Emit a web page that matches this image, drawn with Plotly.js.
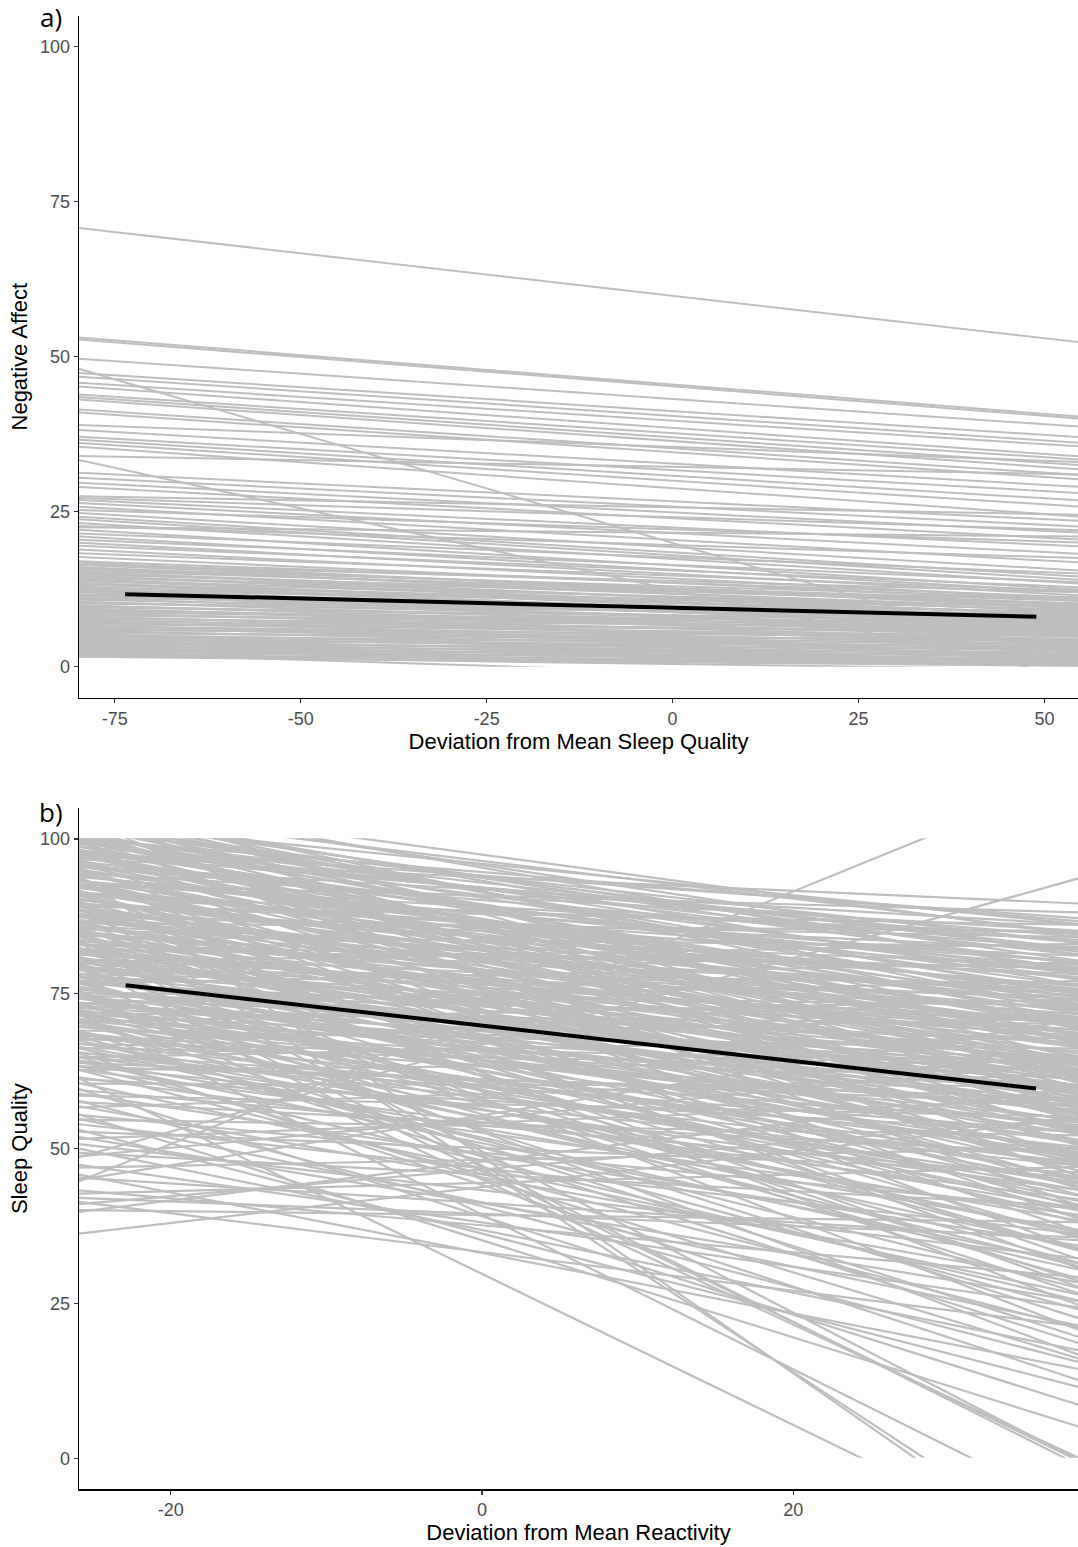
<!DOCTYPE html>
<html><head><meta charset="utf-8">
<script src="https://cdn.plot.ly/plotly-3.0.1.min.js"></script>
<style>html,body{margin:0;padding:0;background:#fff}#chart{width:1078px;height:1547px}</style>
</head><body><div id="chart"></div><script>
// ---------- Panel a: Negative Affect vs deviation from mean sleep quality ----------
const aLineX = [-80, 55];              // x span over which each person's fitted line is drawn
const aLeft = [70.8,53.1,52.8,49.7,48.1,47.4,46.8,45.8,45.2,43.9,43.5,43.1,41.5,41.0,39.0,38.2,37.1,36.6,36.1,35.5,34.0,33.4,31.3,30.5,29.7,29.0,27.5,27.2,26.9,26.4,25.8,25.3,24.8,24.2,23.8,23.2,22.7,22.5,22.1,21.5,21.0,20.5,20.0,19.5,18.9,18.3,17.7,
17.0,16.8,16.5,16.4,16.1,15.9,15.8,15.5,15.3,15.2,14.9,14.7,14.6,14.3,14.1,14.0,13.8,13.5,13.4,13.2,12.9,12.8,12.6,12.3,12.2,12.0,11.7,11.6,11.4,11.1,11.0,10.8,10.5,10.4,10.2,9.9,9.8,9.6,9.4,9.2,9.0,8.8,8.7,8.4,8.3,8.1,7.9,7.7,7.5,7.4,7.2,7.0,6.8,6.6,6.5,6.3,6.1,5.9,5.8,5.6,5.4,5.2,5.1,4.9,4.7,4.5,4.4,4.2,4.0,3.9,3.7,3.5,3.4,3.2,3.0,2.9,2.7,2.6,2.4,2.3,2.2,2.0,1.9,1.8,1.7,1.6];
const aRight = [52.3,40.3,40.0,38.7,0.6,37.0,36.1,35.5,33.9,33.4,32.5,31.8,30.9,30.2,33.0,29.0,28.0,26.8,25.8,24.2,31.0,-2.0,23.5,22.6,21.6,20.5,24.5,22.0,19.4,18.2,16.8,20.0,15.5,14.5,14.0,13.4,17.5,21.0,12.4,15.0,12.0,13.6,11.5,12.8,11.0,12.2,10.6,
11.2,9.5,12.0,10.1,8.8,11.0,9.9,10.6,8.2,9.4,10.2,7.6,9.0,10.8,8.5,7.1,9.6,8.0,6.8,9.2,7.4,8.7,6.2,9.8,7.9,6.6,8.3,5.8,7.2,8.9,6.0,7.7,5.4,6.9,8.1,5.1,6.4,7.3,4.8,6.1,5.6,7.0,4.4,5.9,6.7,3.9,5.2,6.3,4.1,5.5,3.5,4.9,5.8,3.2,4.5,2.8,4.0,5.0,2.5,3.6,4.3,2.1,3.1,1.8,3.8,2.6,1.4,3.3,2.0,1.1,2.9,1.6,0.8,2.3,1.2,0.5,1.9,0.9,0.3,-3.0,1.3,0.2,0.7,-0.5,0.4,0.1];
const aMeanX = [-73.6, 48.9];
const aMeanY = [11.7, 8.06];
const aXTicks = [-75, -50, -25, 0, 25, 50];
const aXTickText = ['-75', '-50', '-25', '0', '25', '50'];

// ---------- Panel b: Sleep Quality vs deviation from mean reactivity ----------
const bLineX = [-26.5, 39];
const bLeft = [107.0,106.8,106.3,106.0,105.6,105.2,104.8,104.4,104.0,103.7,103.5,103.3,103.0,102.6,102.3,102.0,101.7,101.5,101.3,101.0,100.7,100.4,100.1,100.0,
99.8,99.6,99.3,99.0,98.7,98.4,98.1,97.8,97.5,97.2,96.9,96.7,96.4,96.1,95.8,95.5,95.2,95.0,94.7,94.4,94.1,93.8,93.5,93.2,92.9,92.6,92.3,92.0,91.7,91.4,91.1,90.8,90.5,90.3,90.1,89.9,
89.6,89.3,89.0,88.7,88.4,88.1,87.8,87.5,87.2,86.9,86.6,86.3,86.0,85.7,85.4,85.1,84.8,84.5,84.2,83.9,83.6,83.3,83.0,82.7,82.4,82.1,81.8,81.5,81.2,80.9,80.6,80.5,80.3,80.1,80.0,
79.7,79.4,79.1,78.8,78.6,78.3,78.0,77.7,77.4,77.1,76.8,76.5,76.2,76.0,75.7,75.4,75.1,74.8,74.5,74.2,73.9,73.6,73.3,73.0,72.7,72.4,72.1,71.8,71.5,71.2,70.9,70.6,70.3,70.1,
69.8,69.4,69.0,68.6,68.2,67.8,67.4,67.0,66.6,66.2,65.8,65.4,65.0,64.6,64.2,63.8,63.4,63.0,62.6,62.0,61.6,61.2,60.8,60.4,60.0,
59.5,59.0,58.5,58.0,57.5,57.0,56.5,55.9,55.5,55.0,54.6,54.0,53.3,52.7,52.0,51.4,50.8,50.2,
49.3,48.5,48.1,47.5,46.8,46.0,45.3,44.6,44.0,43.3,42.6,42.0,41.5,40.8,40.0,39.5,36.0,
104.6,104.2,103.9,103.1,102.8,102.1,101.9,101.1,100.9,100.5,100.2,99.9,99.5,99.1,98.9,98.6,98.2,97.9,97.6,97.0,96.6,96.2,95.9,95.6,95.3,94.9,94.5,94.2,93.9,93.6,93.3,93.0,92.7,92.4,92.1,91.8,91.5,91.2,90.9,90.6,90.2,
89.8,89.5,89.1,88.8,88.5,88.2,87.9,87.6,87.3,87.0,86.7,86.4,86.1,85.8,85.5,85.2,84.9,84.6,84.3,84.0,83.7,83.4,83.1,82.8,82.5,82.2,81.9,81.6,81.3,81.0,80.7,80.4,
79.9,79.5,79.2,78.9,78.5,78.1,77.8,77.5,77.2,76.9,76.6,76.3,75.9,75.6,75.2,74.9,74.6,74.3,73.8,73.5,73.2,72.9,72.5,72.2,71.9,71.6,71.3,70.8,70.4,
69.6,69.2,68.8,68.4,67.9,67.2,66.8,66.4,65.6,65.2,64.8,64.4,63.6,63.2,62.8];
const bRight = [78.0,60.0,84.2,70.0,81.0,64.0,76.0,84.5,58.0,73.0,40.0,80.0,67.0,86.0,52.0,77.0,62.0,55.0,83.0,70.5,45.0,79.5,66.0,86.5,
74.0,58.0,81.0,69.0,87.0,48.0,76.0,63.0,84.0,72.0,54.0,89.4,78.0,66.0,38.0,82.0,70.0,-19.6,59.0,85.0,75.0,50.0,67.0,80.0,61.0,88.0,73.0,43.0,64.0,78.5,56.0,84.5,-17.5,69.5,52.0,30.0,
76.0,62.5,86.0,47.0,71.0,57.0,81.0,66.0,24.0,74.5,53.0,85.0,63.0,40.0,78.0,59.5,70.0,48.5,82.5,-1.3,67.5,55.0,75.5,35.0,62.0,79.0,51.0,69.0,44.5,58.5,72.5,-2.0,28.0,64.5,83.0,
54.0,68.0,41.0,76.5,-1.3,60.0,47.5,71.0,33.0,57.0,65.5,80.0,50.5,-0.8,62.0,38.5,73.0,55.5,45.0,67.0,22.0,59.0,77.0,51.0,64.0,-9.5,42.0,70.0,53.5,30.5,61.0,47.0,74.0,36.0,
56.0,18.0,66.0,44.0,59.5,27.0,71.0,50.0,38.0,62.5,12.0,54.0,43.0,68.0,31.0,57.0,47.0,20.5,64.0,-17.9,39.0,52.5,26.0,60.0,8.0,
45.0,34.0,55.0,15.0,49.0,28.0,62.0,4.5,40.0,21.0,52.0,36.0,11.0,46.0,25.0,58.0,32.0,17.0,
40.5,64.0,94.0,24.0,50.0,14.0,35.0,71.0,110.8,29.0,47.0,35.5,21.0,55.0,38.0,60.0,55.0,
72.0,66.5,78.5,61.0,74.5,69.0,81.5,57.5,75.0,63.5,82.0,67.0,78.0,61.5,72.5,55.0,83.0,68.0,59.5,77.0,45.0,71.5,62.0,86.0,52.5,73.5,64.5,33.0,79.0,57.0,70.5,47.5,83.5,62.5,75.5,36.0,68.0,50.5,80.0,60.5,73.0,
44.0,82.0,65.0,54.5,77.5,31.5,69.5,59.0,84.0,48.0,72.0,62.0,27.0,79.5,55.5,66.5,42.0,75.0,58.5,20.0,71.5,46.0,63.5,79.0,52.5,37.5,68.5,57.5,74.0,33.0,61.5,49.0,
70.0,26.0,58.0,64.0,43.5,74.5,52.0,16.0,61.0,39.5,69.0,48.0,56.5,31.0,64.5,44.0,71.0,53.0,28.5,62.0,40.5,67.5,49.5,57.5,35.5,63.5,19.0,54.5,43.0,
60.0,33.5,49.0,23.5,56.5,40.0,64.0,30.0,47.5,15.5,52.5,36.5,25.0,58.0,41.5];
const bMeanX = [-22.9, 35.6];
const bMeanY = [76.4, 59.7];
const bXTicks = [-20, 0, 20];
const bXTickText = ['-20', '0', '20'];

const yTicks = [0, 25, 50, 75, 100];

function spaghetti(xs, left, right) {
  const x = [], y = [];
  for (let i = 0; i < left.length; i++) { x.push(xs[0], xs[1], null); y.push(left[i], right[i], null); }
  return {x, y};
}
const aS = spaghetti(aLineX, aLeft, aRight);
const bS = spaghetti(bLineX, bLeft, bRight);
const GREY = '#bebebe';
const FONT = 'Liberation Sans, Arial, sans-serif';

const data = [
  {type:'scatter', mode:'lines', x:aS.x, y:aS.y, xaxis:'x', yaxis:'y', line:{color:GREY, width:2}, hoverinfo:'skip', showlegend:false},
  {type:'scatter', mode:'lines', x:aMeanX, y:aMeanY, xaxis:'x2', yaxis:'y2', line:{color:'#000', width:4}, hoverinfo:'skip', showlegend:false},
  {type:'scatter', mode:'lines', x:bS.x, y:bS.y, xaxis:'x3', yaxis:'y3', line:{color:GREY, width:2.2}, hoverinfo:'skip', showlegend:false},
  {type:'scatter', mode:'lines', x:bMeanX, y:bMeanY, xaxis:'x4', yaxis:'y4', line:{color:'#000', width:4}, hoverinfo:'skip', showlegend:false}
];

const aXR = [-79.8, 54.5], bXR = [-25.9, 38.3];
function hidden(range, domain, anchor) {
  return {range, domain, anchor, visible:false, fixedrange:true, showgrid:false, zeroline:false};
}
function visX(range, ticks, tickText, title, anchor) {
  return {range, domain:[0,1], anchor, tickvals:ticks, ticktext:tickText, ticks:'outside', ticklen:4, tickwidth:1.1, tickcolor:'#333',
    showline:true, linecolor:'#000', linewidth:1.3, showgrid:false, zeroline:false, fixedrange:true,
    tickfont:{family:FONT, size:18, color:'#4d4d4d'},
    title:{text:title, font:{family:FONT, size:22, color:'#000'}, standoff:5}};
}
function visY(domain, title, anchor) {
  return {range:[-5,105], domain, anchor, tickvals:yTicks, ticks:'outside', ticklen:4, tickwidth:1.1, tickcolor:'#333',
    showline:true, linecolor:'#000', linewidth:1.3, showgrid:false, zeroline:false, fixedrange:true,
    tickfont:{family:FONT, size:18, color:'#4d4d4d'},
    title:{text:title, font:{family:FONT, size:22, color:'#000'}, standoff:6}};
}
const H = 1547;
const d = py => 1 - py / H;

const layout = {
  width:1078, height:1547, margin:{l:79, r:0, t:0, b:0}, paper_bgcolor:'#fff', plot_bgcolor:'rgba(0,0,0,0)',
  showlegend:false,
  xaxis: hidden(aXR, [0,1], 'y'),
  yaxis: hidden([0,100], [d(666.7), d(46.7)], 'x'),
  xaxis2: visX(aXR, aXTicks, aXTickText, 'Deviation from Mean Sleep Quality', 'y2'),
  yaxis2: visY([d(697.7), d(15.7)], 'Negative Affect', 'x2'),
  xaxis3: hidden(bXR, [0,1], 'y3'),
  yaxis3: hidden([0,100], [d(1457.7), d(838.3)], 'x3'),
  xaxis4: visX(bXR, bXTicks, bXTickText, 'Deviation from Mean Reactivity', 'y4'),
  yaxis4: visY([d(1489.3), d(808)], 'Sleep Quality', 'x4'),
  annotations:[
    {text:'a)', xref:'paper', yref:'paper', x:-0.028, y:d(17), xanchor:'center', yanchor:'middle', showarrow:false,
     font:{family:'Open Sans, sans-serif', size:26, color:'#000'}},
    {text:'b)', xref:'paper', yref:'paper', x:-0.028, y:d(812), xanchor:'center', yanchor:'middle', showarrow:false,
     font:{family:'Open Sans, sans-serif', size:26, color:'#000'}}
  ]
};
Plotly.newPlot('chart', data, layout, {staticPlot:true, displayModeBar:false});
</script></body></html>
